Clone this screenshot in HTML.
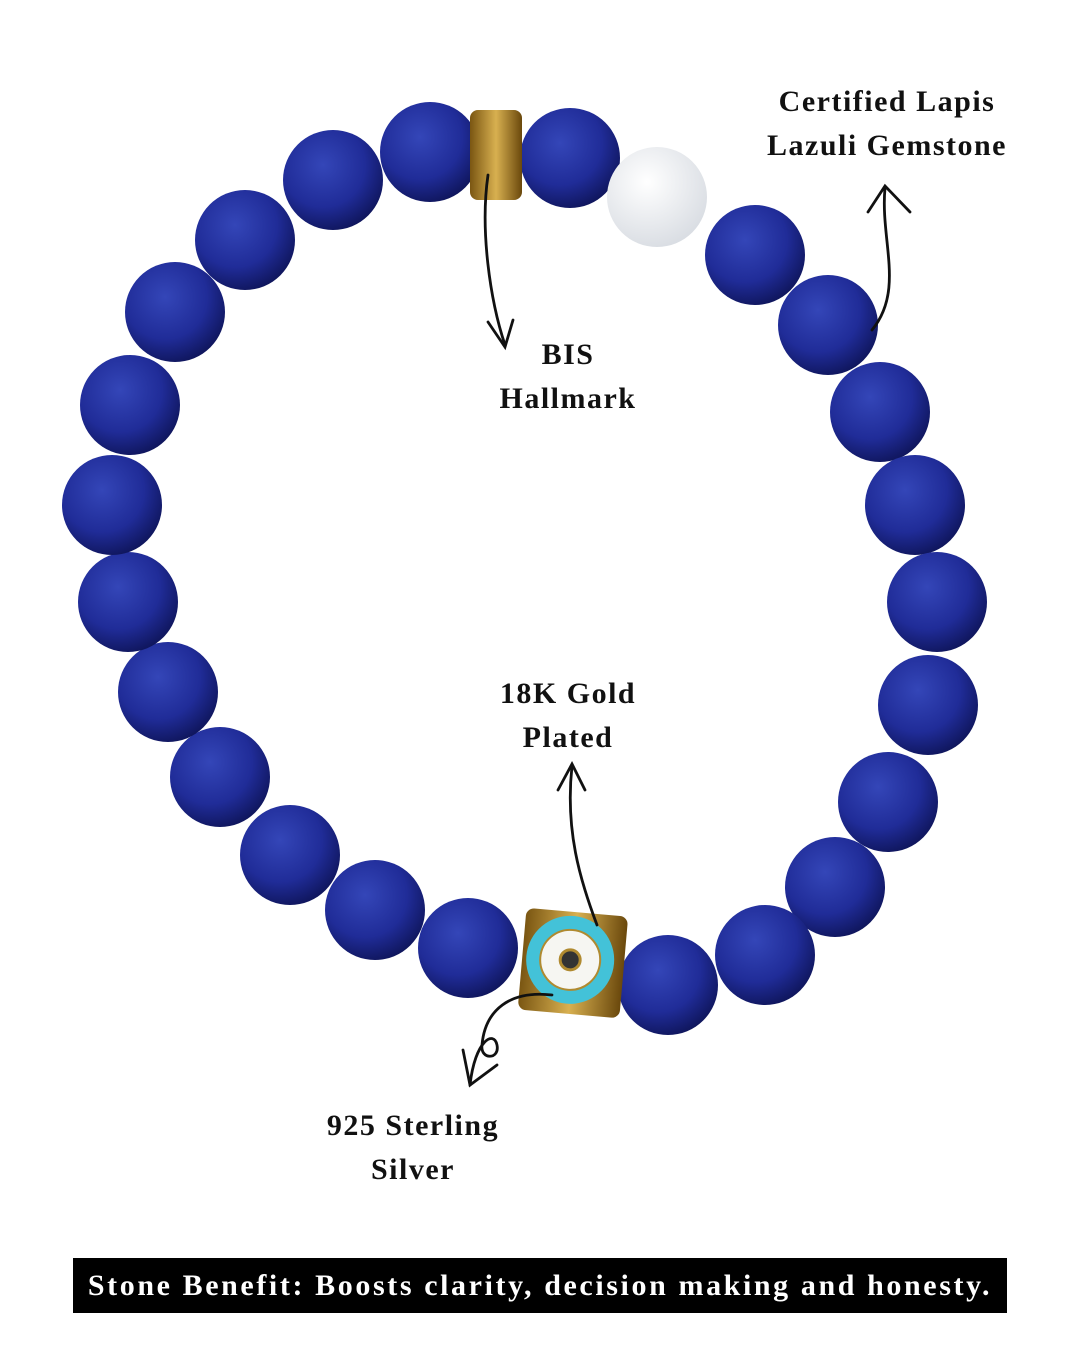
<!DOCTYPE html>
<html><head><meta charset="utf-8"><style>
html,body{margin:0;padding:0;background:#fff}
body{width:1080px;height:1350px;position:relative;overflow:hidden;font-family:"Liberation Serif",serif}
.l{position:absolute;font-weight:bold;font-size:30px;letter-spacing:1.5px;color:#111;text-align:center;line-height:44px;transform:translateX(-50%);white-space:nowrap}
.bar{position:absolute;left:73px;top:1258px;width:934px;height:55px;background:#000;color:#fff;font-weight:bold;font-size:30px;letter-spacing:2.6px;line-height:55px;text-align:center;white-space:nowrap}
</style></head><body>
<svg width="1080" height="1350" style="position:absolute;left:0;top:0">
<defs>
<radialGradient id="b" cx="40%" cy="35%" r="70%">
<stop offset="0" stop-color="#3446b8"/><stop offset="0.6" stop-color="#202c98"/><stop offset="1" stop-color="#0e1458"/></radialGradient>
<radialGradient id="c" cx="40%" cy="35%" r="70%">
<stop offset="0" stop-color="#ffffff"/><stop offset="1" stop-color="#d8dce2"/></radialGradient>
<linearGradient id="g" x1="0" x2="1"><stop offset="0" stop-color="#7a5612"/><stop offset="0.5" stop-color="#d8b050"/><stop offset="1" stop-color="#6a480c"/></linearGradient>
</defs>
<g fill="url(#b)">
<circle cx="430" cy="152" r="50"/><circle cx="570" cy="158" r="50"/>
<circle cx="755" cy="255" r="50"/><circle cx="828" cy="325" r="50"/><circle cx="880" cy="412" r="50"/>
<circle cx="915" cy="505" r="50"/><circle cx="937" cy="602" r="50"/><circle cx="928" cy="705" r="50"/>
<circle cx="888" cy="802" r="50"/><circle cx="835" cy="887" r="50"/><circle cx="765" cy="955" r="50"/>
<circle cx="668" cy="985" r="50"/><circle cx="468" cy="948" r="50"/><circle cx="375" cy="910" r="50"/>
<circle cx="290" cy="855" r="50"/><circle cx="220" cy="777" r="50"/><circle cx="168" cy="692" r="50"/>
<circle cx="128" cy="602" r="50"/><circle cx="112" cy="505" r="50"/><circle cx="130" cy="405" r="50"/>
<circle cx="175" cy="312" r="50"/><circle cx="245" cy="240" r="50"/><circle cx="333" cy="180" r="50"/>
</g>
<circle cx="657" cy="197" r="50" fill="url(#c)"/>
<rect x="470" y="110" width="52" height="90" rx="8" fill="url(#g)"/>
<g transform="rotate(5 572 962)">
<rect x="522" y="912" width="102" height="102" rx="8" fill="url(#g)"/>
<circle cx="570" cy="960" r="44" fill="#43c2d8"/>
<circle cx="570" cy="960" r="30" fill="#f6f6f2" stroke="#b08a30" stroke-width="2"/>
<circle cx="570" cy="960" r="10" fill="#333" stroke="#b08a30" stroke-width="3"/>
</g>
<g fill="none" stroke="#111" stroke-width="2.8" stroke-linecap="round">
<path d="M488 175 C480 230 490 300 505 345"/><path d="M488 322 L505 347 L513 320"/>
<path d="M872 330 C905 290 880 240 885 188"/><path d="M868 212 L885 186 L910 212"/>
<path d="M597 925 C580 880 565 830 572 766"/><path d="M558 790 L572 764 L585 790"/>
<path d="M552 995 C510 990 485 1010 482 1045 C480 1060 500 1060 497 1045 C494 1030 475 1040 470 1085"/>
<path d="M463 1050 L470 1085 L497 1065"/>
</g>
</svg>
<div class="l" style="left:887px;top:80px">Certified Lapis<br>Lazuli Gemstone</div>
<div class="l" style="left:568px;top:333px">BIS<br>Hallmark</div>
<div class="l" style="left:568px;top:672px">18K Gold<br>Plated</div>
<div class="l" style="left:413px;top:1104px">925 Sterling<br>Silver</div>
<div class="bar">Stone Benefit: Boosts clarity, decision making and honesty.</div>
</body></html>
